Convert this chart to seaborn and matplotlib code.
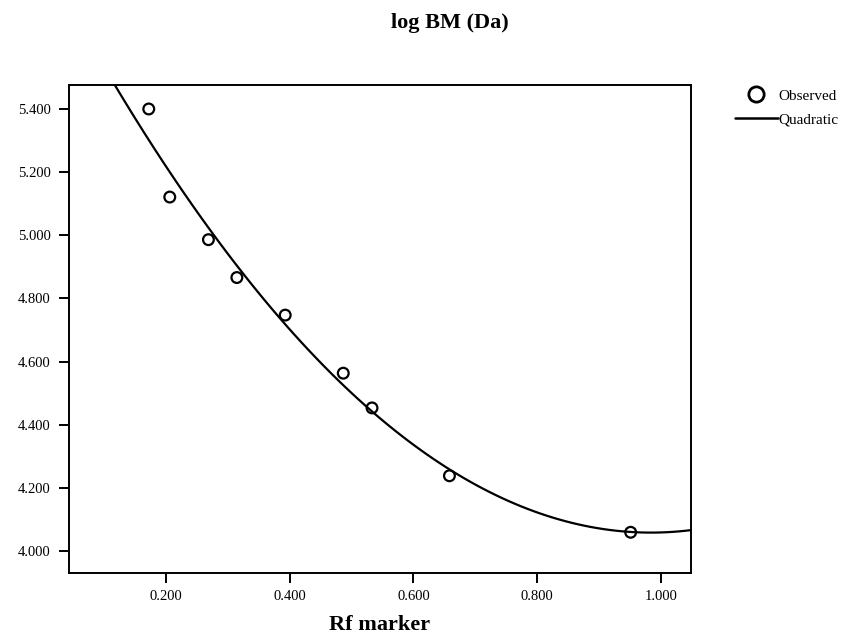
import numpy as np
import pandas as pd
import matplotlib
matplotlib.use("Agg")
import matplotlib.pyplot as plt
from matplotlib.lines import Line2D
import seaborn as sns

# Data
rf_marker = [0.172, 0.206, 0.2685, 0.3145, 0.3927, 0.4866, 0.5331, 0.6583, 0.9514]
log_bm = [5.400, 5.121, 4.986, 4.866, 4.747, 4.563, 4.453, 4.238, 4.059]
x_ticks = [0.2, 0.4, 0.6, 0.8, 1.0]
y_ticks = [4.0, 4.2, 4.4, 4.6, 4.8, 5.0, 5.2, 5.4]

df = pd.DataFrame({"Rf marker": rf_marker, "log BM (Da)": log_bm})

sns.set_theme(style="white")
plt.rcParams["font.family"] = ["Liberation Serif", "DejaVu Serif"]
plt.rcParams["text.color"] = "black"
plt.rcParams["xtick.color"] = "black"
plt.rcParams["ytick.color"] = "black"
plt.rcParams["axes.labelcolor"] = "black"

fig = plt.figure(figsize=(8.45, 6.4), dpi=100)
ax = fig.add_axes([69 / 845, 1 - 573 / 640, (691 - 69) / 845, (573 - 85) / 640])
ax.set_xlim(0.043, 1.049)
ax.set_ylim(3.930, 5.476)

sns.regplot(data=df, x="Rf marker", y="log BM (Da)", order=2, ci=None,
            scatter=False, truncate=False, ax=ax,
            line_kws=dict(color="black", lw=1.6))
sns.scatterplot(data=df, x="Rf marker", y="log BM (Da)", ax=ax, marker="o",
                s=60, facecolors="none", edgecolors="black", linewidths=1.6)

ax.set_xticks(x_ticks)
ax.set_xticklabels([f"{v:.3f}" for v in x_ticks], fontsize=10.5)
ax.set_yticks(y_ticks)
ax.set_yticklabels([f"{v:.3f}" for v in y_ticks], fontsize=10.5)
ax.tick_params(axis="both", direction="out", length=7, width=1.4,
               left=True, bottom=True, color="black", labelcolor="black")
ax.tick_params(axis="x", pad=5)
ax.tick_params(axis="y", pad=6)
for s in ax.spines.values():
    s.set_visible(True)
    s.set_color("black")
    s.set_linewidth(1.4)

ax.set_ylabel("")
ax.set_xlabel("Rf marker", fontsize=16, fontweight="bold", labelpad=9,
              color="black")
fig.text(450 / 845, 1 - 23 / 640, "log BM (Da)", fontsize=16, fontweight="bold",
         ha="center", va="center", color="black")

handles = [
    Line2D([], [], marker="o", linestyle="none", markersize=11,
           markerfacecolor="none", markeredgecolor="black", markeredgewidth=2.0),
    Line2D([], [], color="black", lw=1.8),
]
leg = fig.legend(handles, ["Observed", "Quadratic"], loc="upper left",
                 bbox_to_anchor=(732 / 845, 1 - 86 / 640), frameon=False,
                 fontsize=11, handlelength=2.8, handletextpad=0.05,
                 labelspacing=0.65, borderaxespad=0, borderpad=0.2)
for t in leg.get_texts():
    t.set_color("black")

fig.savefig("out.png", dpi=100, facecolor="white")
